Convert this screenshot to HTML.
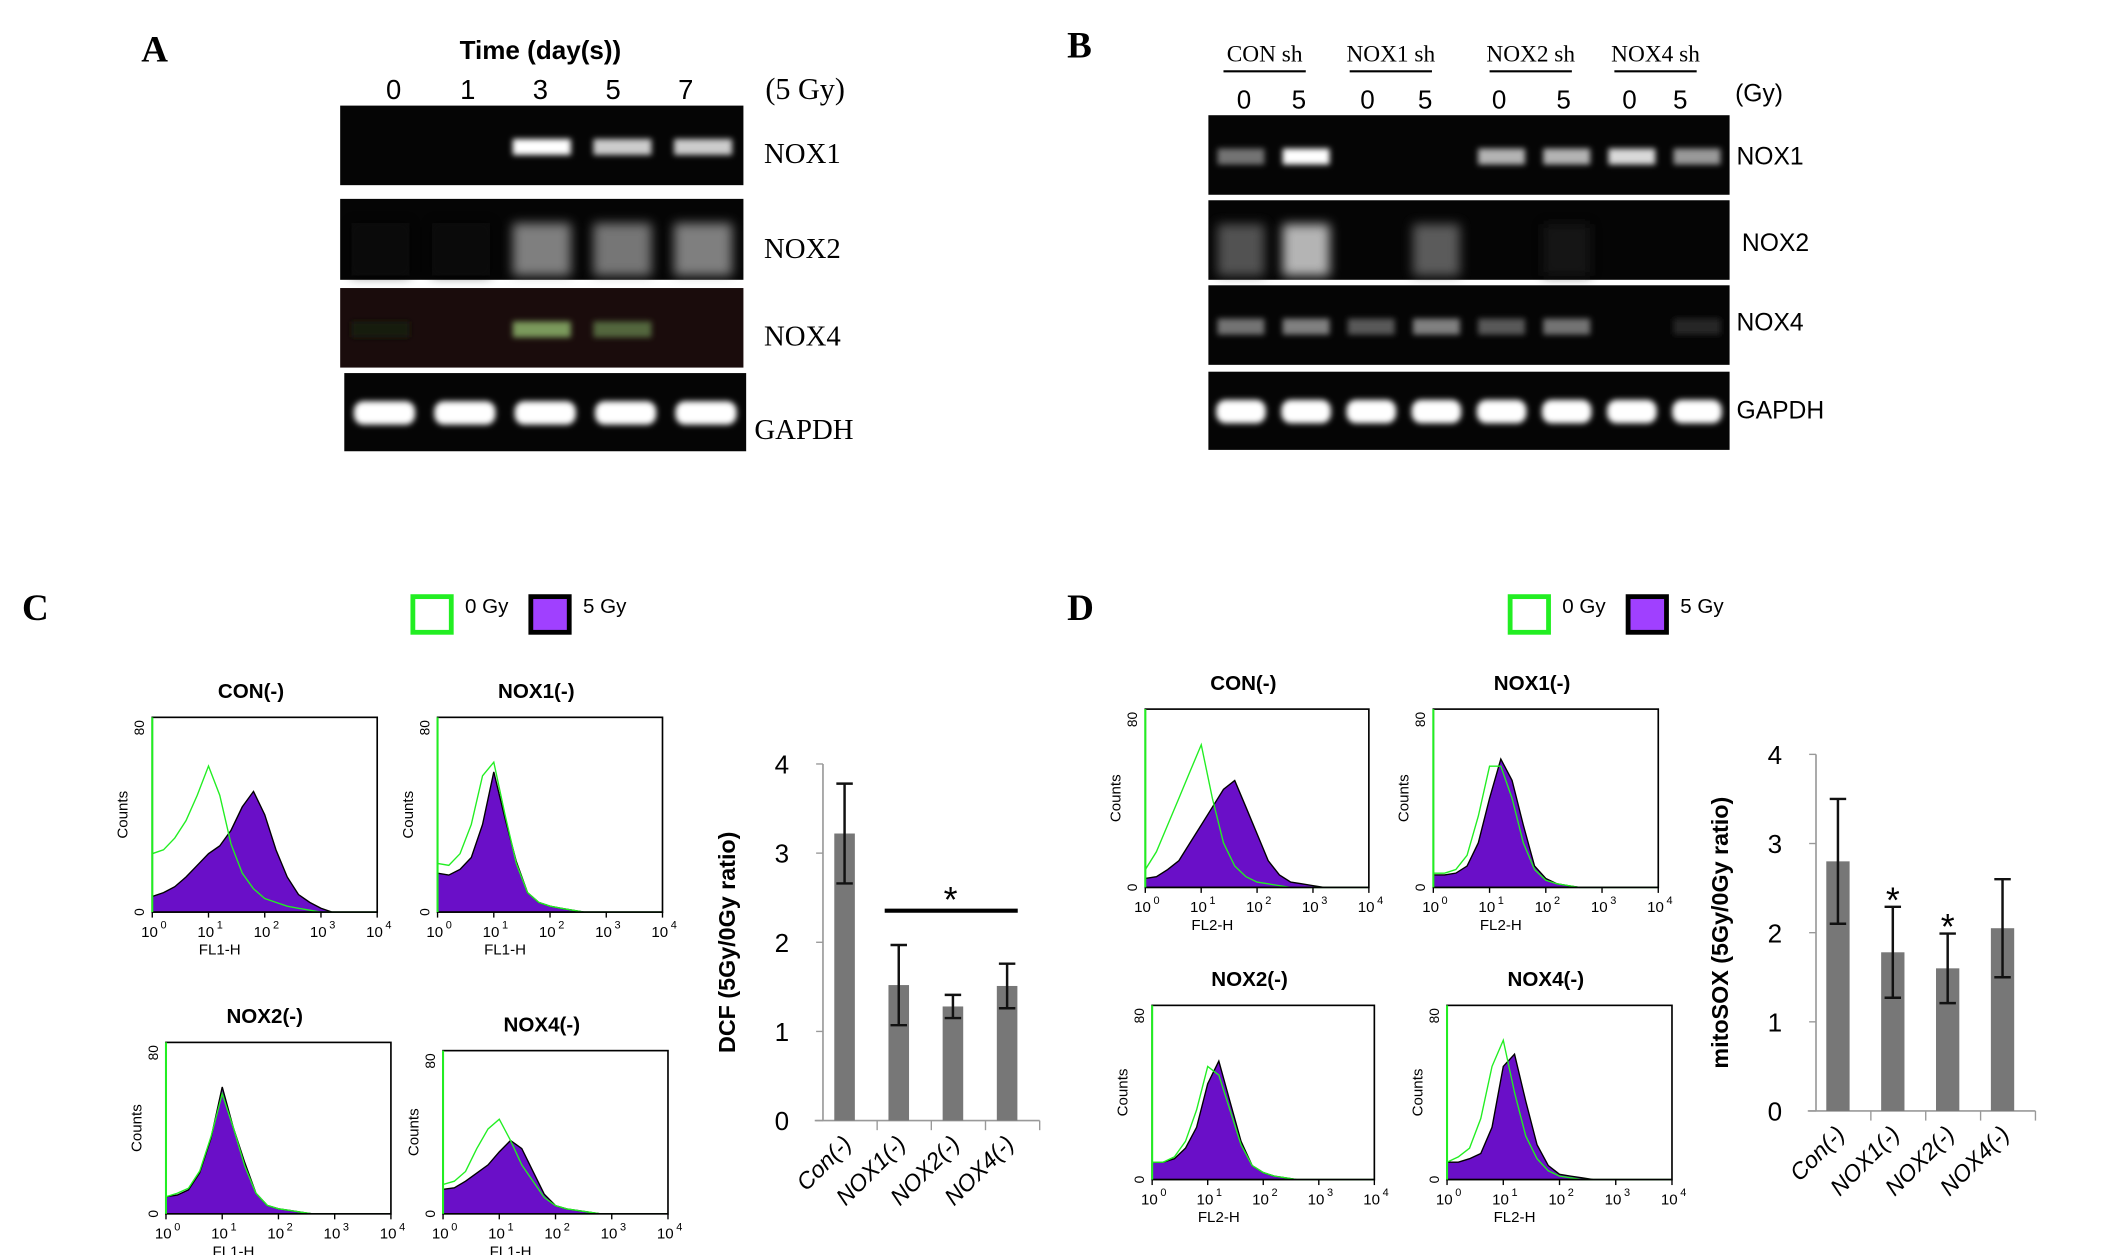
<!DOCTYPE html>
<html><head><meta charset="utf-8">
<style>
html,body{margin:0;padding:0;background:#fff;overflow:hidden;}
svg{display:block;}
.sans{font-family:"Liberation Sans",sans-serif;}
.serif{font-family:"Liberation Serif",serif;}
</style></head>
<body>
<svg id="fig" width="2126" height="1255" viewBox="0 0 1550 915" xmlns="http://www.w3.org/2000/svg">
<defs>
<filter id="blur" x="-30%" y="-80%" width="160%" height="260%"><feGaussianBlur stdDeviation="2.2"/></filter>
<filter id="blur2" x="-30%" y="-80%" width="160%" height="260%"><feGaussianBlur stdDeviation="4"/></filter>
</defs>
<g id="root"></g>
</svg>
<script>
// ---------- DATA ----------
const laneLabelsA = ['0','1','3','5','7'];
const gelA_NOX1 = [0,0,1.0,0.8,0.8];
const gelA_NOX2 = [0.05,0.05,0.7,0.65,0.7];
const gelA_NOX4 = [0.1,0,0.6,0.4,0];
const gelA_GAPDH = [1,1,1,1,1];
const groupLabelsB = ['CON sh','NOX1 sh','NOX2 sh','NOX4 sh'];
const doseLabelsB = ['0','5'];
const gelB_NOX1 = [0.45,1.0,0,0,0.7,0.7,0.85,0.6];
const gelB_NOX2 = [0.45,1.0,0,0.5,0,0.1,0,0];
const gelB_NOX4 = [0.45,0.5,0.35,0.5,0.35,0.45,0,0.15];
const gelB_GAPDH = [1,1,1,1,1,1,1,1];
const barCats = ['Con(-)','NOX1(-)','NOX2(-)','NOX4(-)'];
const dcfVals = [3.22,1.52,1.28,1.51];
const dcfErr = [0.56,0.45,0.13,0.25];
const moxVals = [2.8,1.78,1.6,2.05];
const moxErr = [0.7,0.51,0.39,0.55];
const yTicks = [0,1,2,3,4];
const xTickExp = ['0','1','2','3','4'];
// histogram fractions of max (80 counts) at log10 bins 0,0.2,...,4.0
const hC_con_0 = [0.3,0.32,0.38,0.47,0.6,0.75,0.6,0.35,0.2,0.12,0.07,0.05,0.03,0.02,0.01,0,0,0,0,0,0];
const hC_con_5 = [0.08,0.1,0.13,0.18,0.24,0.3,0.34,0.42,0.54,0.62,0.5,0.32,0.18,0.09,0.05,0.02,0,0,0,0,0];
const hC_n1_0 = [0.25,0.24,0.3,0.45,0.7,0.77,0.5,0.25,0.1,0.05,0.03,0.02,0.01,0,0,0,0,0,0,0,0];
const hC_n1_5 = [0.2,0.19,0.22,0.28,0.45,0.72,0.48,0.26,0.1,0.05,0.03,0.02,0.01,0,0,0,0,0,0,0,0];
const hC_n2_0 = [0.1,0.12,0.15,0.25,0.45,0.7,0.5,0.28,0.12,0.05,0.03,0.02,0.01,0,0,0,0,0,0,0,0];
const hC_n2_5 = [0.1,0.11,0.14,0.24,0.44,0.74,0.5,0.3,0.12,0.05,0.03,0.02,0.01,0,0,0,0,0,0,0,0];
const hC_n4_0 = [0.18,0.2,0.26,0.4,0.52,0.58,0.45,0.3,0.2,0.1,0.05,0.03,0.02,0.01,0,0,0,0,0,0,0];
const hC_n4_5 = [0.15,0.16,0.2,0.25,0.3,0.38,0.45,0.4,0.26,0.12,0.05,0.03,0.02,0.01,0,0,0,0,0,0,0];
const hD_con_0 = [0.1,0.2,0.35,0.5,0.65,0.8,0.5,0.25,0.12,0.06,0.03,0.02,0.01,0,0,0,0,0,0,0,0];
const hD_con_5 = [0.05,0.06,0.1,0.15,0.25,0.35,0.45,0.55,0.6,0.45,0.3,0.15,0.07,0.03,0.02,0.01,0,0,0,0,0];
const hD_n1_0 = [0.08,0.08,0.1,0.18,0.4,0.68,0.68,0.5,0.25,0.1,0.04,0.02,0.01,0,0,0,0,0,0,0,0];
const hD_n1_5 = [0.07,0.07,0.08,0.12,0.25,0.5,0.72,0.6,0.35,0.12,0.05,0.02,0.01,0,0,0,0,0,0,0,0];
const hD_n2_0 = [0.1,0.1,0.13,0.22,0.4,0.65,0.6,0.4,0.2,0.08,0.04,0.02,0.01,0,0,0,0,0,0,0,0];
const hD_n2_5 = [0.1,0.1,0.12,0.18,0.3,0.55,0.68,0.45,0.22,0.08,0.04,0.02,0.01,0,0,0,0,0,0,0,0];
const hD_n4_0 = [0.1,0.13,0.18,0.35,0.65,0.8,0.5,0.25,0.12,0.05,0.02,0.01,0,0,0,0,0,0,0,0,0];
const hD_n4_5 = [0.1,0.1,0.12,0.15,0.3,0.65,0.72,0.45,0.2,0.08,0.03,0.02,0.01,0,0,0,0,0,0,0,0];

// ---------- HELPERS ----------
const NS='http://www.w3.org/2000/svg';
const root=document.getElementById('root');
function mk(tag,attrs,parent){const e=document.createElementNS(NS,tag);for(const k in attrs)e.setAttribute(k,attrs[k]);(parent||root).appendChild(e);return e;}
function txt(x,y,s,cls,size,extra,parent){const e=mk('text',Object.assign({x:x,y:y,'font-size':size,class:cls},extra||{}),parent);e.textContent=s;return e;}

// ---------- GELS ----------
function gel(x,y,w,h,lanes,vals,kind,name,tint){
  const g=mk('g',{});
  
  
  mk('rect',{x:x,y:y,width:w,height:h,fill:tint||'#050505'},g);
  const lw=w/lanes;
  vals.forEach((v,i)=>{
    if(v<=0)return;
    const cx=x+lw*(i+0.5);
    const c=Math.round(255*Math.min(1,v));
    if(kind==='gapdh'){
      const b=mk('rect',{x:cx-lw*0.38,y:y+h*0.36,width:lw*0.76,height:h*0.3,rx:7,fill:'#fff',filter:'url(#blur)'},g);
      
    } else if(kind==='smear'){
      const b=mk('rect',{x:cx-lw*0.36,y:y+h*0.3,width:lw*0.72,height:h*0.65,fill:`rgb(${c},${c},${c})`,opacity:0.7,filter:'url(#blur2)'},g);
      
    } else {
      const col=kind==='green'?`rgb(${Math.round(c*0.8)},${c},${Math.round(c*0.6)})`:`rgb(${c},${c},${c})`;
      const b=mk('rect',{x:cx-lw*0.36,y:y+h*0.42,width:lw*0.72,height:h*0.2,fill:col,filter:'url(#blur)'},g);
      
    }
  });
}
// Panel A
txt(103,45,'A','serif',27,{'font-weight':'bold'});
txt(394,43,'Time (day(s))','sans',19,{'font-weight':'bold','text-anchor':'middle'});
const laneXA=[287,341,394,447,500];
laneLabelsA.forEach((l,i)=>txt(laneXA[i],72,l,'sans',20,{'text-anchor':'middle'}));
txt(558,72,'(5 Gy)','serif',22);
gel(248,77,294,58,5,gelA_NOX1,'band','gel-a-nox1');
gel(248,145,294,59,5,gelA_NOX2,'smear','gel-a-nox2');
gel(248,210,294,58,5,gelA_NOX4,'green','gel-a-nox4','#1a0c0c');
gel(251,272,293,57,5,gelA_GAPDH,'gapdh','gel-a-gapdh');
txt(557,119,'NOX1','serif',21);txt(557,188,'NOX2','serif',21);txt(557,252,'NOX4','serif',21);txt(550,320,'GAPDH','serif',21);
// Panel B
txt(778,42,'B','serif',27,{'font-weight':'bold'});
const grpX=[922,1014,1116,1207];
groupLabelsB.forEach((l,i)=>{txt(grpX[i],45,l,'serif',17,{'text-anchor':'middle'});mk('line',{x1:grpX[i]-30,x2:grpX[i]+30,y1:52,y2:52,stroke:'#000','stroke-width':1.5});});
const doseX=[907,947,997,1039,1093,1140,1188,1225];
doseX.forEach((x,i)=>txt(x,79,doseLabelsB[i%2],'sans',19,{'text-anchor':'middle'}));
txt(1265,74,'(Gy)','sans',18);
gel(881,84,380,58,8,gelB_NOX1,'band','gel-b-nox1');
gel(881,146,380,58,8,gelB_NOX2,'smear','gel-b-nox2');
gel(881,208,380,58,8,gelB_NOX4,'band','gel-b-nox4');
gel(881,271,380,57,8,gelB_GAPDH,'gapdh','gel-b-gapdh');
txt(1266,120,'NOX1','sans',18);txt(1270,183,'NOX2','sans',18);txt(1266,241,'NOX4','sans',18);txt(1266,305,'GAPDH','sans',18);

// ---------- LEGENDS ----------
function legend(x,y,name){
  const g=mk('g',{});
  mk('rect',{x:x+2,y:y+2,width:28,height:26,fill:'#fff',stroke:'#22ee22','stroke-width':3.5},g);
  txt(x+40,y+14,'0 Gy','sans',15,{},g);
  mk('rect',{x:x+88,y:y+2,width:28,height:26,fill:'#a040ff',stroke:'#000','stroke-width':3.5},g);
  txt(x+126,y+14,'5 Gy','sans',15,{},g);
}
txt(16,452,'C','serif',27,{'font-weight':'bold'});
legend(299,433,'legend-c');
txt(778,452,'D','serif',27,{'font-weight':'bold'});
legend(1099,433,'legend-d');

// ---------- HISTOGRAMS ----------
function hist(x0,y0,x1,y1,title,d0,d5,xl,name){
  const g=mk('g',{});
  const W=x1-x0,H=y1-y0;
  const sx=v=>x0+v/4*W, sy=f=>y1-f*H;
  const step=4/(d0.length-1);
  function pts(arr){let p=[[sx(0),y1]];arr.forEach((f,i)=>{p.push([sx(i*step),sy(f)]);});p.push([sx(4),y1]);return p.map(q=>q[0].toFixed(1)+','+q[1].toFixed(1)).join(' ');}
  const f5=mk('polygon',{points:pts(d5),fill:'#6a0fc8',stroke:'#000','stroke-width':1},g);
  
  const l0=mk('polyline',{points:pts(d0),fill:'none',stroke:'#22ee22','stroke-width':1},g);
  
  mk('rect',{x:x0,y:y0,width:W,height:H,fill:'none',stroke:'#000','stroke-width':1.2},g);
  mk('line',{x1:x0,x2:x0,y1:y0,y2:y1,stroke:'#22ee22','stroke-width':1.5},g);
  for(let i=0;i<=4;i++){
    mk('line',{x1:sx(i),x2:sx(i),y1:y1,y2:y1+4,stroke:'#000','stroke-width':1},g);
    txt(sx(i)-2,y1+18,'10','sans',11,{'text-anchor':'middle'},g);
    txt(sx(i)+6,y1+12,xTickExp[i],'sans',8,{},g);
  }
  txt(x0+W*0.3,y1+31,xl,'sans',11,{'text-anchor':'middle'},g);
  txt(x0+W*0.5-10,y0-14,title,'sans',15,{'font-weight':'bold','text-anchor':'middle'},g);
  txt(0,0,'80','sans',10,{transform:`translate(${x0-6},${y0+2}) rotate(-90)`,'text-anchor':'end'},g);
  txt(0,0,'0','sans',10,{transform:`translate(${x0-6},${y1}) rotate(-90)`,'text-anchor':'middle'},g);
  txt(0,0,'Counts','sans',11,{transform:`translate(${x0-18},${(y0+y1)/2}) rotate(-90)`,'text-anchor':'middle'},g);
}
hist(111,523,275,665,'CON(-)',hC_con_0,hC_con_5,'FL1-H','hist-c-con');
hist(319,523,483,665,'NOX1(-)',hC_n1_0,hC_n1_5,'FL1-H','hist-c-nox1');
hist(121,760,285,885,'NOX2(-)',hC_n2_0,hC_n2_5,'FL1-H','hist-c-nox2');
hist(323,766,487,885,'NOX4(-)',hC_n4_0,hC_n4_5,'FL1-H','hist-c-nox4');
hist(835,517,998,647,'CON(-)',hD_con_0,hD_con_5,'FL2-H','hist-d-con');
hist(1045,517,1209,647,'NOX1(-)',hD_n1_0,hD_n1_5,'FL2-H','hist-d-nox1');
hist(840,733,1002,860,'NOX2(-)',hD_n2_0,hD_n2_5,'FL2-H','hist-d-nox2');
hist(1055,733,1219,860,'NOX4(-)',hD_n4_0,hD_n4_5,'FL2-H','hist-d-nox4');

// ---------- BAR CHARTS ----------
function bars(ax,yTop,yBot,xEnd,vals,errs,ylabel,name,bw){
  const g=mk('g',{});
  const sy=v=>yBot-(v/4)*(yBot-yTop);
  const band=(xEnd-ax)/barCats.length;
  const sx=i=>ax+band*(i+0.5)-4;
  mk('line',{x1:ax,x2:ax,y1:yTop,y2:yBot,stroke:'#999','stroke-width':1.2},g);
  mk('line',{x1:ax-6,x2:xEnd,y1:yBot,y2:yBot,stroke:'#999','stroke-width':1.2},g);
  yTicks.forEach(t=>{mk('line',{x1:ax-5,x2:ax,y1:sy(t),y2:sy(t),stroke:'#999'},g);txt(ax-30,sy(t)+7,String(t),'sans',19,{'text-anchor':'middle'},g);});
  for(let i=1;i<=barCats.length;i++){mk('line',{x1:ax+band*i,x2:ax+band*i,y1:yBot,y2:yBot+7,stroke:'#999'},g);}
  vals.forEach((v,i)=>{
    const b=mk('rect',{x:sx(i)-bw/2,y:sy(v),width:bw,height:yBot-sy(v),fill:'#777'},g);
    
    const e=mk('path',{d:`M${sx(i)},${sy(v+errs[i])}V${sy(v-errs[i])}M${sx(i)-6},${sy(v+errs[i])}h12M${sx(i)-6},${sy(v-errs[i])}h12`,stroke:'#111','stroke-width':1.8,fill:'none'},g);
    
    txt(0,0,barCats[i],'sans',17,{transform:`translate(${sx(i)+6},${yBot+18}) rotate(-45)`,'text-anchor':'end','font-style':'italic'},g);
  });
  txt(0,0,ylabel,'sans',17,{transform:`translate(${ax-64},${(yTop+yBot)/2}) rotate(-90)`,'text-anchor':'middle','font-weight':'bold'},g);
  return {sx:sx,sy:sy,g:g};
}
const bc=bars(600,557,817,758,dcfVals,dcfErr,'DCF (5Gy/0Gy ratio)','bar-chart-dcf',15);
mk('line',{x1:645,x2:742,y1:664,y2:664,stroke:'#000','stroke-width':3},bc.g);
txt(693,665,'*','sans',26,{'text-anchor':'middle'},bc.g);
const bd=bars(1324,550,810,1484,moxVals,moxErr,'mitoSOX (5Gy/0Gy ratio)','bar-chart-mitosox',17);
[1,2].forEach(i=>txt(bd.sx(i),bd.sy(moxVals[i]+moxErr[i])+4,'*','sans',26,{'text-anchor':'middle'},bd.g));
</script>
</body></html>
